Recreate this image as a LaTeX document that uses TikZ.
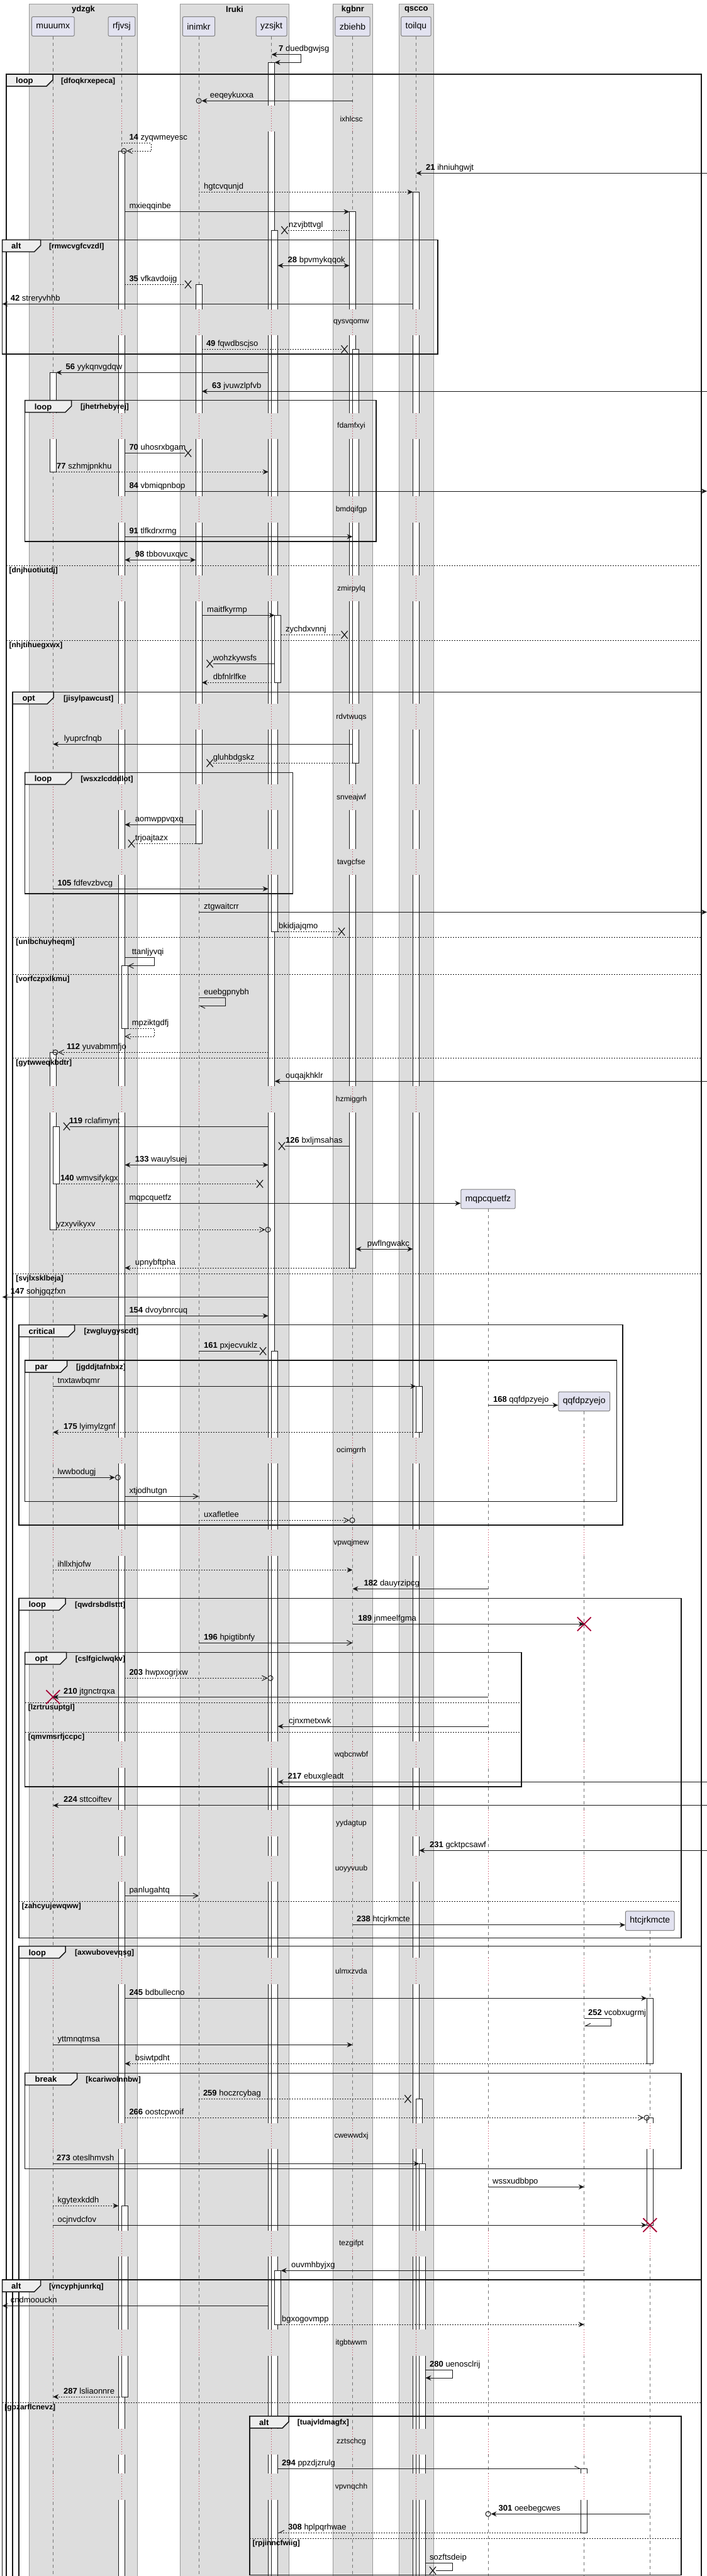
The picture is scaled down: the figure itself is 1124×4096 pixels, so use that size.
\documentclass[tikz,border=0pt]{standalone}
\usepackage{fontspec}
\setmainfont{Liberation Sans}
\usepackage{tikz}
\usetikzlibrary{arrows.meta,positioning,shapes.misc}

\definecolor{ink}{HTML}{181818}
\definecolor{boxgray}{HTML}{DDDDDD}
\definecolor{partfill}{HTML}{E2E2F0}
\definecolor{tabfill}{HTML}{EEEEEE}
\definecolor{delayred}{HTML}{C0304A}
\definecolor{killred}{HTML}{A80036}

\begin{document}
\begin{tikzpicture}[x=1pt, y=-1pt,
  part/.style={draw=black!50, line width=1pt, fill=partfill, rounded corners=2pt, minimum height=30.6pt, inner xsep=7pt, font=\fontsize{14}{16}\selectfont},
  grp/.style={fill=boxgray, draw=black!40, line width=0.8pt},
  grptitle/.style={font=\bfseries\fontsize{13}{15}\selectfont},
  lifeline/.style={draw=black!55, line width=0.8pt, dash pattern=on 5pt off 5pt},
  bar/.style={draw=ink, fill=white, line width=1pt},
  delayline/.style={draw=delayred, line width=1pt, dash pattern=on 1pt off 3pt},
  delaytxt/.style={font=\fontsize{12}{14}\selectfont},
  msg/.style={draw=ink, line width=1pt},
  dotmsg/.style={msg, dash pattern=on 2pt off 2pt},
  fullhead/.style={-{Stealth[length=9pt, width=8pt, inset=3pt]}},
  bothhead/.style={{Stealth[length=9pt, width=8pt, inset=3pt]}-{Stealth[length=9pt, width=8pt, inset=3pt]}},
  thinhead/.style={-{Straight Barb[length=8pt, width=8pt]}},
  halfa/.style={-{Straight Barb[length=8pt, width=8pt, harpoon]}},
  halfb/.style={-{Straight Barb[length=8pt, width=8pt, harpoon, swap]}},
  lbl/.style={anchor=base west, inner sep=0pt, font=\fontsize{13}{15}\selectfont},
  lostx/.style={cross out, draw=ink, line width=1.2pt, minimum width=9pt, minimum height=11pt, inner sep=0pt},
  destroyx/.style={cross out, draw=killred, line width=1.8pt, minimum size=20pt, inner sep=0pt},
  endo/.style={circle, draw=ink, line width=1pt, minimum size=8pt, inner sep=0pt},
  grpframe/.style={draw=ink, line width=1.5pt},
  tabshape/.style={draw=ink, line width=1.5pt, fill=tabfill},
  tablbl/.style={anchor=base west, inner sep=0pt, font=\bfseries\fontsize{13}{15}\selectfont},
  condlbl/.style={anchor=base west, inner sep=0pt, font=\bfseries\fontsize{12}{14}\selectfont},
  sepline/.style={draw=ink, line width=1pt, dash pattern=on 2pt off 2pt}]
  \useasboundingbox (0,0) rectangle (1124,4096);
  \clip (0,0) rectangle (1124,4096);
  \fill[white] (0,0) rectangle (1124,4096);
  % --- Boxes ---
  \draw[grp] (46.8,6) rectangle (218.3,4110);
  \draw[grp] (286.7,6) rectangle (459,4110);
  \draw[grp] (529.5,6) rectangle (592.2,4110);
  \draw[grp] (634,6) rectangle (689.5,4110);
  \node[grptitle] (ydzgk) at (132.5,15) {ydzgk};
  \node[grptitle] (lruki) at (372.9,15) {lruki};
  \node[grptitle] (kgbnr) at (560.9,15) {kgbnr};
  \node[grptitle] (qscco) at (661.8,15) {qscco};
  % --- Lifeline anchors: l = lifeline, a/b = bar edges, c/d = nested bars ---
  \foreach \n/\x in {muuumx/84.3, rfjvsj/193.4, inimkr/316, yzsjkt/431.6, zbiehb/560.5, toilqu/661.4, mqpcquetfz/776, qqfdpzyejo/928.7, htcjrkmcte/1033.3} {
    \coordinate (\n-l) at (\x,0);
    \coordinate (\n-a) at (\x-5,0);
    \coordinate (\n-b) at (\x+5,0);
    \coordinate (\n-c) at (\x+10,0);
    \coordinate (\n-d) at (\x+15,0);
  }
  \coordinate (redge) at (1124,0);
  \coordinate (ledge) at (3.6,0);
  % --- Participants ---
  \node[part] (muuumx) at (84.3,42) {muuumx};
  \node[part] (rfjvsj) at (193.4,42) {rfjvsj};
  \node[part] (inimkr) at (316,42) {inimkr};
  \node[part] (yzsjkt) at (431.6,42) {yzsjkt};
  \node[part] (zbiehb) at (560.5,42) {zbiehb};
  \node[part] (toilqu) at (661.4,42) {toilqu};
  \node[part] (mqpcquetfz) at (776,1906.5) {mqpcquetfz};
  \node[part] (qqfdpzyejo) at (928.7,2228.3) {qqfdpzyejo};
  \node[part] (htcjrkmcte) at (1033.3,3054.2) {htcjrkmcte};
  \foreach \n in {muuumx,rfjvsj,inimkr,yzsjkt,zbiehb,toilqu,mqpcquetfz,qqfdpzyejo,htcjrkmcte}
    \draw[lifeline] (\n.south) -- (\n-l |- 0,4110);
  % --- Activation bars ---
  \draw[bar] (muuumx-a |- 0,592.3) rectangle (muuumx-b |- 0,750.3);
  \draw[bar] (muuumx-a |- 0,1673.3) rectangle (muuumx-b |- 0,1955.3);
  \draw[bar] (muuumx-l |- 0,1791) rectangle (muuumx-c |- 0,1882.3);
  \draw[bar] (rfjvsj-a |- 0,240) rectangle (rfjvsj-b |- 0,4110);
  \draw[bar] (rfjvsj-l |- 0,1535.7) rectangle (rfjvsj-c |- 0,1635.3);
  \draw[bar] (rfjvsj-l |- 0,3507.3) rectangle (rfjvsj-c |- 0,3811);
  \draw[bar] (inimkr-a |- 0,452.3) rectangle (inimkr-b |- 0,1341.3);
  \draw[bar] (yzsjkt-a |- 0,99.3) rectangle (yzsjkt-b |- 0,4110);
  \draw[bar] (yzsjkt-l |- 0,366) rectangle (yzsjkt-c |- 0,1481.3);
  \draw[bar] (yzsjkt-b |- 0,978.3) rectangle (yzsjkt-d |- 0,1085.3);
  \draw[bar] (yzsjkt-l |- 0,2148.3) rectangle (yzsjkt-c |- 0,4110);
  \draw[bar] (yzsjkt-b |- 0,3610.3) rectangle (yzsjkt-d |- 0,3696);
  \draw[bar] (zbiehb-a |- 0,336.7) rectangle (zbiehb-b |- 0,2016);
  \draw[bar] (zbiehb-l |- 0,555.3) rectangle (zbiehb-c |- 0,1213.3);
  \draw[bar] (toilqu-a |- 0,305.3) rectangle (toilqu-b |- 0,4110);
  \draw[bar] (toilqu-l |- 0,2204.3) rectangle (toilqu-c |- 0,2277.3);
  \draw[bar] (toilqu-l |- 0,3337.3) rectangle (toilqu-c |- 0,4110);
  \draw[bar] (toilqu-b |- 0,3440.3) rectangle (toilqu-d |- 0,4110);
  \draw[bar] (htcjrkmcte-a |- 0,3177.3) rectangle (htcjrkmcte-b |- 0,3281.3);
  \draw[bar] (htcjrkmcte-a |- 0,3367.3) rectangle (htcjrkmcte-b |- 0,3538);
  \draw[bar] (qqfdpzyejo-a |- 0,3925.3) rectangle (qqfdpzyejo-b |- 0,4027.3);
  % --- Delays ---
  \foreach \ya/\txt [count=\i] in {168/ixhlcsc, 491.7/qysvqomw, 656.7/fdamfxyi, 789.3/bmdqifgp, 915/zmirpylq, 1119/rdvtwuqs, 1247/snveajwf, 1350/tavgcfse, 1727.3/hzmiggrh, 2285.7/ocimgrrh, 2432.3/vpwqjmew, 2769.3/wqbcnwbf, 2878.3/yydagtup, 2950.7/uoyyvuub, 3113.3/ulmxzvda, 3375.7/cwewwdxj, 3546.7/tezgifpt, 3704.3/itgbtwwm, 3861.7/zztschcg, 3933.3/vpvnqchh} {
    \foreach \lx in {84.3,193.4,316,431.6,560.5,661.4} {
      \fill[boxgray] (\lx-7,\ya) rectangle (\lx+17,\ya+41.3);
      \draw[delayline] (\lx,\ya) -- (\lx,\ya+41.3);
    }
    \node[delaytxt] (delay\i) at (558.5,\ya+21) {\txt};
  }
  \foreach \ya in {2285.7,2432.3,2769.3,2878.3,2950.7,3113.3,3375.7,3546.7,3704.3,3861.7,3933.3}
    \foreach \lx in {776,928.7} {
      \fill[white] (\lx-7,\ya) rectangle (\lx+7,\ya+41.3);
      \draw[delayline] (\lx,\ya) -- (\lx,\ya+41.3);
    }
  \foreach \ya in {3113.3,3375.7,3546.7,3704.3,3861.7,3933.3} {
    \fill[white] (1026.3,\ya) rectangle (1040.3,\ya+41.3);
    \draw[delayline] (1033.3,\ya) -- (1033.3,\ya+41.3);
  }
  % --- Frame: loop dfoqkrxepeca ---
  \draw[grpframe] (10,4110) -- (10,118) -- (1115,118) -- (1115,4110);
  \draw[tabshape] (10,118) -- ++(74,0) -- ++(0,9) -- ++(-10,10) -- (10,137) -- cycle;
  \node[tablbl] (f1) at (25,132.6) {loop};
  \node[condlbl] (c1) at (97,132) {[dfoqkrxepeca]};
  \draw[sepline] (10,899.3) -- (1115,899.3);
  \node[condlbl] (s1) at (14.4,910.8) {[dnjhuotiutdj]};
  \draw[sepline] (10,1018.3) -- (1115,1018.3);
  \node[condlbl] (s2) at (14.4,1029.8) {[nhjtihuegxwx]};
  % --- Frame: alt rmwcvgfcvzdl ---
  \draw[grpframe] (3.6,381.3) rectangle (696,563);
  \draw[tabshape] (3.6,381.3) -- ++(61,0) -- ++(0,9) -- ++(-10,10) -- (3.6,400.3) -- cycle;
  \node[tablbl] (f2) at (18,395.9) {alt};
  \node[condlbl] (c2) at (77.8,395.3) {[rmwcvgfcvzdl]};
  % --- Frame: loop jhetrhebyrej ---
  \draw[grpframe] (39.6,636.7) rectangle (598,861);
  \draw[tabshape] (39.6,636.7) -- ++(74,0) -- ++(0,9) -- ++(-10,10) -- (39.6,655.7) -- cycle;
  \node[tablbl] (f3) at (54.6,651.3) {loop};
  \node[condlbl] (c3) at (128,650.7) {[jhetrhebyrej]};
  % --- Frame: opt jisylpawcust ---
  \draw[grpframe] (20,4110) -- (20,1100.3) -- (1115,1100.3) -- (1115,4110);
  \draw[tabshape] (20,1100.3) -- ++(65,0) -- ++(0,9) -- ++(-10,10) -- (20,1119.3) -- cycle;
  \node[tablbl] (f4) at (35.3,1114.9) {opt};
  \node[condlbl] (c4) at (100.9,1114.3) {[jisylpawcust]};
  \draw[sepline] (20,1490.3) -- (1115,1490.3);
  \node[condlbl] (s3) at (25.2,1501.8) {[unlbchuyheqm]};
  \draw[sepline] (20,1549.3) -- (1115,1549.3);
  \node[condlbl] (s4) at (25.2,1560.8) {[vorfczpxlkmu]};
  \draw[sepline] (20,1682.3) -- (1115,1682.3);
  \node[condlbl] (s5) at (25.2,1693.8) {[gytwweqkbdtr]};
  \draw[sepline] (20,2025) -- (1115,2025);
  \node[condlbl] (s6) at (25.2,2036.5) {[svjlxsklbeja]};
  % --- Frame: loop wsxzlcdddlot ---
  \draw[grpframe] (39.6,1228.3) rectangle (465.4,1421);
  \draw[tabshape] (39.6,1228.3) -- ++(74,0) -- ++(0,9) -- ++(-10,10) -- (39.6,1247.3) -- cycle;
  \node[tablbl] (f5) at (54.6,1242.9) {loop};
  \node[condlbl] (c5) at (128.2,1242.3) {[wsxzlcdddlot]};
  % --- Frame: critical zwgluygyscdt ---
  \draw[grpframe] (30,2106.7) rectangle (990,2425);
  \draw[tabshape] (30,2106.7) -- ++(88.6,0) -- ++(0,9) -- ++(-10,10) -- (30,2125.7) -- cycle;
  \node[tablbl] (f6) at (45.4,2121.3) {critical};
  \node[condlbl] (c6) at (133.3,2120.7) {[zwgluygyscdt]};
  % --- Frame: par jgddjtafnbxz ---
  \draw[grpframe] (39.6,2163) rectangle (980.5,2387.3);
  \draw[tabshape] (39.6,2163) -- ++(67,0) -- ++(0,9) -- ++(-10,10) -- (39.6,2182) -- cycle;
  \node[tablbl] (f7) at (55.5,2177.6) {par};
  \node[condlbl] (c7) at (121,2177) {[jgddjtafnbxz]};
  % --- Frame: loop qwdrsbdlsttt ---
  \draw[grpframe] (30,2541.3) rectangle (1083,3081.7);
  \draw[tabshape] (30,2541.3) -- ++(74,0) -- ++(0,9) -- ++(-10,10) -- (30,2560.3) -- cycle;
  \node[tablbl] (f8) at (45.4,2555.9) {loop};
  \node[condlbl] (c8) at (118.9,2555.3) {[qwdrsbdlsttt]};
  \draw[sepline] (30,3023.3) -- (1083,3023.3);
  \node[condlbl] (s7) at (34.6,3034.8) {[zahcyujewqww]};
  % --- Frame: opt cslfgiclwqkv ---
  \draw[grpframe] (39.6,2627.3) rectangle (829,2841);
  \draw[tabshape] (39.6,2627.3) -- ++(66,0) -- ++(0,9) -- ++(-10,10) -- (39.6,2646.3) -- cycle;
  \node[tablbl] (f9) at (55.5,2641.9) {opt};
  \node[condlbl] (c9) at (119.6,2641.3) {[cslfgiclwqkv]};
  \draw[sepline] (39.6,2707.3) -- (829,2707.3);
  \node[condlbl] (s8) at (44.7,2718.8) {[lzrtrusuptgl]};
  \draw[sepline] (39.6,2754) -- (829,2754);
  \node[condlbl] (s9) at (44.7,2765.5) {[qmvmsrfjccpc]};
  % --- Frame: loop axwubovevqsg ---
  \draw[grpframe] (30,4110) -- (30,3094.7) -- (1115,3094.7) -- (1115,4110);
  \draw[tabshape] (30,3094.7) -- ++(74,0) -- ++(0,9) -- ++(-10,10) -- (30,3113.7) -- cycle;
  \node[tablbl] (f10) at (45.4,3109.3) {loop};
  \node[condlbl] (c10) at (118.9,3108.7) {[axwubovevqsg]};
  % --- Frame: break kcariwolnnbw ---
  \draw[grpframe] (39.6,3296.3) rectangle (1083,3448.3);
  \draw[tabshape] (39.6,3296.3) -- ++(83,0) -- ++(0,9) -- ++(-10,10) -- (39.6,3315.3) -- cycle;
  \node[tablbl] (f11) at (55.5,3310.9) {break};
  \node[condlbl] (c11) at (136.2,3310.3) {[kcariwolnnbw]};
  % --- Frame: alt vncyphjunrkq ---
  \draw[grpframe] (3.6,4110) -- (3.6,3625) -- (1115,3625) -- (1115,4110);
  \draw[tabshape] (3.6,3625) -- ++(61,0) -- ++(0,9) -- ++(-10,10) -- (3.6,3644) -- cycle;
  \node[tablbl] (f12) at (18,3639.6) {alt};
  \node[condlbl] (c12) at (77.8,3639) {[vncyphjunrkq]};
  \draw[sepline] (3.6,3820) -- (1115,3820);
  \node[condlbl] (s10) at (7.2,3831.5) {[gpzarflcnevz]};
  % --- Frame: alt tuajvldmagfx ---
  \draw[grpframe] (397,3841.7) rectangle (1083,4094.5);
  \draw[tabshape] (397,3841.7) -- ++(62,0) -- ++(0,9) -- ++(-10,10) -- (397,3860.7) -- cycle;
  \node[tablbl] (f13) at (412,3856.3) {alt};
  \node[condlbl] (c13) at (472.6,3855.7) {[tuajvldmagfx]};
  \draw[sepline] (397,4036) -- (1083,4036);
  \node[condlbl] (s11) at (401.3,4047.5) {[rpjinncfwiig]};
  % --- Messages 7 to 63 ---
  \draw[msg, bothhead] (yzsjkt-l |- 0,86.7) -- ++(46.8,0) |- (yzsjkt-b |- 0,99.3);
  \node[lbl] (t1) at (443,81.7) {\textbf{7} duedbgwjsg};
  \node[endo] (o2) at (316,160.3) {};
  \draw[msg, fullhead] (zbiehb-l |- o2) -- (o2.east);
  \node[lbl] (t2) at (333.6,155.3) {eeqeykuxxa};
  \node[endo] (o3) at (197,240) {};
  \draw[dotmsg, thinhead] (rfjvsj-l |- 0,227.7) -- ++(47.2,0) |- (o3.east);
  \node[lbl] (t3) at (205.3,222.7) {\textbf{14} zyqwmeyesc};
  \draw[msg, fullhead] (redge |- 0,275.3) -- (toilqu-l |- 0,275.3);
  \node[lbl] (t4) at (677,270.3) {\textbf{21} ihniuhgwjt};
  \draw[dotmsg, fullhead] (inimkr-l |- 0,305.3) -- (toilqu-a |- 0,305.3);
  \node[lbl] (t5) at (324,300.3) {hgtcvqunjd};
  \draw[msg, fullhead] (rfjvsj-b |- 0,336.7) -- (zbiehb-a |- 0,336.7);
  \node[lbl] (t6) at (205.3,331.7) {mxieqqinbe};
  \node[lostx] (x7) at (452.4,366) {};
  \draw[dotmsg] (zbiehb-a |- x7) -- (x7);
  \node[lbl] (t7) at (459,361) {nzvjbttvgl};
  \draw[msg, bothhead] (yzsjkt-c |- 0,422.3) -- (zbiehb-a |- 0,422.3);
  \node[lbl] (t8) at (457.5,417.3) {\textbf{28} bpvmykqqok};
  \node[lostx] (x9) at (299,452.3) {};
  \draw[dotmsg] (rfjvsj-b |- x9) -- (x9);
  \node[lbl] (t9) at (205.3,447.3) {\textbf{35} vfkavdoijg};
  \draw[msg, fullhead] (toilqu-a |- 0,483.3) -- (ledge |- 0,483.3);
  \node[lbl] (t10) at (16.6,478.3) {\textbf{42} streryvhhb};
  \node[lostx] (x11) at (547.6,555.3) {};
  \draw[dotmsg] (inimkr-b |- x11) -- (x11);
  \node[lbl] (t11) at (327.8,550.3) {\textbf{49} fqwdbscjso};
  \draw[msg, fullhead] (yzsjkt-a |- 0,592.3) -- (muuumx-b |- 0,592.3);
  \node[lbl] (t12) at (104.5,587.3) {\textbf{56} yykqnvgdqw};
  \draw[msg, fullhead] (redge |- 0,622.3) -- (inimkr-b |- 0,622.3);
  \node[lbl] (t13) at (337,617.3) {\textbf{63} jvuwzlpfvb};
  % --- Messages 70 to 112 ---
  \node[lostx] (x14) at (299,720.3) {};
  \draw[msg] (rfjvsj-b |- x14) -- (x14);
  \node[lbl] (t14) at (205.3,715.3) {\textbf{70} uhosrxbgam};
  \draw[dotmsg, fullhead] (muuumx-b |- 0,750.3) -- (yzsjkt-a |- 0,750.3);
  \node[lbl] (t15) at (90,745.3) {\textbf{77} szhmjpnkhu};
  \draw[msg, fullhead] (rfjvsj-b |- 0,781) -- (redge |- 0,781);
  \node[lbl] (t16) at (205.3,776) {\textbf{84} vbmiqpnbop};
  \draw[msg, fullhead] (rfjvsj-b |- 0,853.3) -- (zbiehb-l |- 0,853.3);
  \node[lbl] (t17) at (205.3,848.3) {\textbf{91} tlfkdrxrmg};
  \draw[msg, bothhead] (rfjvsj-b |- 0,890.3) -- (inimkr-a |- 0,890.3);
  \node[lbl] (t18) at (214.7,885.3) {\textbf{98} tbbovuxqvc};
  \draw[msg, fullhead] (inimkr-b |- 0,978.3) -- (yzsjkt-b |- 0,978.3);
  \node[lbl] (t19) at (329,973.3) {maitfkyrmp};
  \node[lostx] (x20) at (547.6,1009.3) {};
  \draw[dotmsg] (yzsjkt-d |- x20) -- (x20);
  \node[lbl] (t20) at (454,1004.3) {zychdxvnnj};
  \node[lostx] (x21) at (333.6,1055.3) {};
  \draw[msg] (yzsjkt-b |- x21) -- (x21);
  \node[lbl] (t21) at (338.6,1050.3) {wohzkywsfs};
  \draw[dotmsg, fullhead] (yzsjkt-l |- 0,1085.3) -- (inimkr-b |- 0,1085.3);
  \node[lbl] (t22) at (338.6,1080.3) {dbfnlrlfke};
  \draw[msg, fullhead] (zbiehb-l |- 0,1183.3) -- (muuumx-l |- 0,1183.3);
  \node[lbl] (t23) at (101.6,1178.3) {lyuprcfnqb};
  \node[lostx] (x24) at (333.6,1213.3) {};
  \draw[dotmsg] (zbiehb-l |- x24) -- (x24);
  \node[lbl] (t24) at (338.6,1208.3) {gluhbdgskz};
  \draw[msg, fullhead] (inimkr-a |- 0,1311.3) -- (rfjvsj-b |- 0,1311.3);
  \node[lbl] (t25) at (214.7,1306.3) {aomwppvqxq};
  \node[lostx] (x26) at (209,1341.3) {};
  \draw[dotmsg] (inimkr-a |- x26) -- (x26);
  \node[lbl] (t26) at (214.7,1336.3) {trjoajtazx};
  \draw[msg, fullhead] (muuumx-l |- 0,1413.3) -- (yzsjkt-a |- 0,1413.3);
  \node[lbl] (t27) at (91.5,1408.3) {\textbf{105} fdfevzbvcg};
  \draw[msg, fullhead] (inimkr-l |- 0,1450.3) -- (redge |- 0,1450.3);
  \node[lbl] (t28) at (324,1445.3) {ztgwaitcrr};
  \node[lostx] (x29) at (543,1481.3) {};
  \draw[dotmsg] (yzsjkt-c |- x29) -- (x29);
  \node[lbl] (t29) at (443,1476.3) {bkidjajqmo};
  \draw[msg, thinhead] (rfjvsj-b |- 0,1522.3) -- ++(47.3,0) |- (rfjvsj-c |- 0,1535.7);
  \node[lbl] (t30) at (209.6,1517.3) {ttanljyvqi};
  \draw[msg, halfa] (inimkr-l |- 0,1586.7) -- ++(42.8,0) |- (inimkr-l |- 0,1599.3);
  \node[lbl] (t31) at (324,1581.7) {euebgpnybh};
  \draw[dotmsg, thinhead] (rfjvsj-c |- 0,1635.3) -- ++(42.3,0) |- (rfjvsj-b |- 0,1648);
  \node[lbl] (t32) at (209.6,1630.3) {mpziktgdfj};
  \node[endo] (o33) at (88,1673.3) {};
  \draw[dotmsg, thinhead] (yzsjkt-a |- o33) -- (o33.east);
  \node[lbl] (t33) at (106,1668.3) {\textbf{112} yuvabmmfjo};
  % --- Messages 119 to 175 ---
  \draw[msg, fullhead] (redge |- 0,1719.3) -- (yzsjkt-b |- 0,1719.3);
  \node[lbl] (t34) at (454,1714.3) {ouqajkhklr};
  \node[lostx] (x35) at (106,1791) {};
  \draw[msg] (yzsjkt-a |- x35) -- (x35);
  \node[lbl] (t35) at (110,1786) {\textbf{119} rclafimynt};
  \node[lostx] (x36) at (448,1822.3) {};
  \draw[msg] (zbiehb-a |- x36) -- (x36);
  \node[lbl] (t36) at (454,1817.3) {\textbf{126} bxljmsahas};
  \draw[msg, bothhead] (rfjvsj-b |- 0,1852.3) -- (yzsjkt-a |- 0,1852.3);
  \node[lbl] (t37) at (214.7,1847.3) {\textbf{133} wauylsuej};
  \node[lostx] (x38) at (413,1882.3) {};
  \draw[dotmsg] (muuumx-b |- x38) -- (x38);
  \node[lbl] (t38) at (95.8,1877.3) {\textbf{140} wmvsifykgx};
  \draw[msg, fullhead] (rfjvsj-b |- 0,1913.3) -- (mqpcquetfz.west |- 0,1913.3);
  \node[lbl] (t39) at (205.3,1908.3) {mqpcquetfz};
  \node[endo] (o40) at (426,1955.3) {};
  \draw[dotmsg, thinhead] (muuumx-b |- o40) -- (o40.west);
  \node[lbl] (t40) at (90,1950.3) {yzxyvikyxv};
  \draw[msg, bothhead] (zbiehb-b |- 0,1986) -- (toilqu-a |- 0,1986);
  \node[lbl] (t41) at (583.6,1981) {pwflngwakc};
  \draw[dotmsg, fullhead] (zbiehb-a |- 0,2016) -- (rfjvsj-b |- 0,2016);
  \node[lbl] (t42) at (214.7,2011) {upnybftpha};
  \draw[msg, fullhead] (yzsjkt-a |- 0,2062.3) -- (ledge |- 0,2062.3);
  \node[lbl] (t43) at (16.6,2057.3) {\textbf{147} sohjgqzfxn};
  \draw[msg, fullhead] (rfjvsj-b |- 0,2092.3) -- (yzsjkt-a |- 0,2092.3);
  \node[lbl] (t44) at (205.3,2087.3) {\textbf{154} dvoybnrcuq};
  \node[lostx] (x45) at (418,2148.3) {};
  \draw[msg] (inimkr-l |- x45) -- (x45);
  \node[lbl] (t45) at (324,2143.3) {\textbf{161} pxjecvuklz};
  \draw[msg, fullhead] (muuumx-l |- 0,2204.3) -- (toilqu-l |- 0,2204.3);
  \node[lbl] (t46) at (91.5,2199.3) {tnxtawbqmr};
  \draw[msg, fullhead] (mqpcquetfz-l |- 0,2234.3) -- (qqfdpzyejo.west |- 0,2234.3);
  \node[lbl] (t47) at (783.9,2229.3) {\textbf{168} qqfdpzyejo};
  \draw[dotmsg, fullhead] (toilqu-l |- 0,2277.3) -- (muuumx-l |- 0,2277.3);
  \node[lbl] (t48) at (100.9,2272.3) {\textbf{175} lyimylzgnf};
  % --- Messages 182 to 238 ---
  \node[endo] (o49) at (187.3,2349.3) {};
  \draw[msg, fullhead] (muuumx-l |- o49) -- (o49.west);
  \node[lbl] (t49) at (91.5,2344.3) {lwwbodugj};
  \draw[msg, thinhead] (rfjvsj-b |- 0,2379.3) -- (inimkr-l |- 0,2379.3);
  \node[lbl] (t50) at (205.3,2374.3) {xtjodhutgn};
  \node[endo] (o51) at (560,2417.3) {};
  \draw[dotmsg, thinhead] (inimkr-l |- o51) -- (o51.west);
  \node[lbl] (t51) at (324,2412.3) {uxafletlee};
  \draw[dotmsg, fullhead] (muuumx-l |- 0,2496.3) -- (zbiehb-l |- 0,2496.3);
  \node[lbl] (t52) at (91.5,2491.3) {ihllxhjofw};
  \draw[msg, fullhead] (mqpcquetfz-l |- 0,2526.3) -- (zbiehb-l |- 0,2526.3);
  \node[lbl] (t53) at (578.5,2521.3) {\textbf{182} dauyrzipcg};
  \node[destroyx] (d54) at (928.7,2582.3) {};
  \draw[msg, fullhead] (zbiehb-l |- d54) -- (d54.center);
  \node[lbl] (t54) at (569.2,2577.3) {\textbf{189} jnmeelfgma};
  \draw[msg, thinhead] (inimkr-l |- 0,2612.3) -- (zbiehb-l |- 0,2612.3);
  \node[lbl] (t55) at (324,2607.3) {\textbf{196} hpigtibnfy};
  \node[endo] (o56) at (430,2668.3) {};
  \draw[dotmsg, thinhead] (rfjvsj-b |- o56) -- (o56.west);
  \node[lbl] (t56) at (205.3,2663.3) {\textbf{203} hwpxogrjxw};
  \node[destroyx] (d57) at (84.3,2698.3) {};
  \draw[msg, fullhead] (mqpcquetfz-l |- d57) -- (d57.center);
  \node[lbl] (t57) at (100.9,2693.3) {\textbf{210} jtgnctrqxa};
  \draw[msg, fullhead] (mqpcquetfz-l |- 0,2745) -- (yzsjkt-c |- 0,2745);
  \node[lbl] (t58) at (459,2740) {cjnxmetxwk};
  \draw[msg, fullhead] (redge |- 0,2833.3) -- (yzsjkt-c |- 0,2833.3);
  \node[lbl] (t59) at (457.5,2828.3) {\textbf{217} ebuxgleadt};
  \draw[msg, fullhead] (redge |- 0,2870.7) -- (muuumx-l |- 0,2870.7);
  \node[lbl] (t60) at (100.9,2865.7) {\textbf{224} sttcoiftev};
  \draw[msg, fullhead] (redge |- 0,2942.3) -- (toilqu-b |- 0,2942.3);
  \node[lbl] (t61) at (683,2937.3) {\textbf{231} gcktpcsawf};
  \draw[msg, thinhead] (rfjvsj-b |- 0,3014.3) -- (inimkr-l |- 0,3014.3);
  \node[lbl] (t62) at (205.3,3009.3) {panlugahtq};
  \draw[msg, fullhead] (zbiehb-l |- 0,3060.7) -- (htcjrkmcte.west |- 0,3060.7);
  \node[lbl] (t63) at (567,3055.7) {\textbf{238} htcjrkmcte};
  % --- Messages 245 to 308 ---
  \draw[msg, fullhead] (rfjvsj-b |- 0,3177.3) -- (htcjrkmcte-a |- 0,3177.3);
  \node[lbl] (t64) at (205.3,3172.3) {\textbf{245} bdbullecno};
  \draw[msg, halfb] (qqfdpzyejo-l |- 0,3209) -- ++(42.5,0) |- (qqfdpzyejo-l |- 0,3221.3);
  \node[lbl] (t65) at (935,3204) {\textbf{252} vcobxugrmj};
  \draw[msg, fullhead] (muuumx-l |- 0,3251.3) -- (zbiehb-l |- 0,3251.3);
  \node[lbl] (t66) at (91.5,3246.3) {yttmnqtmsa};
  \draw[dotmsg, fullhead] (htcjrkmcte-a |- 0,3281.3) -- (rfjvsj-b |- 0,3281.3);
  \node[lbl] (t67) at (214.7,3276.3) {bsiwtpdht};
  \node[lostx] (x68) at (648.4,3337.3) {};
  \draw[dotmsg] (inimkr-l |- x68) -- (x68);
  \node[lbl] (t68) at (322.8,3332.3) {\textbf{259} hoczrcybag};
  \node[endo] (o69) at (1028,3367.3) {};
  \draw[dotmsg, thinhead] (rfjvsj-b |- o69) -- (o69.west);
  \node[lbl] (t69) at (205.3,3362.3) {\textbf{266} oostcpwoif};
  \draw[msg, fullhead] (muuumx-l |- 0,3440.3) -- (toilqu-b |- 0,3440.3);
  \node[lbl] (t70) at (90,3435.3) {\textbf{273} oteslhmvsh};
  \draw[msg, fullhead] (mqpcquetfz-l |- 0,3477.3) -- (qqfdpzyejo-l |- 0,3477.3);
  \node[lbl] (t71) at (783,3472.3) {wssxudbbpo};
  \draw[dotmsg, fullhead] (muuumx-l |- 0,3507.3) -- (rfjvsj-a |- 0,3507.3);
  \node[lbl] (t72) at (91.5,3502.3) {kgytexkddh};
  \draw[msg, fullhead] (muuumx-l |- 0,3538) -- (htcjrkmcte-a |- 0,3538);
  \node[destroyx] (d73) at (1033.3,3538) {};
  \node[lbl] (t73) at (91.5,3533) {ocjnvdcfov};
  \draw[msg, fullhead] (qqfdpzyejo-l |- 0,3610.3) -- (yzsjkt-d |- 0,3610.3);
  \node[lbl] (t74) at (463,3605.3) {ouvmhbyjxg};
  \draw[msg, fullhead] (yzsjkt-a |- 0,3666.3) -- (ledge |- 0,3666.3);
  \node[lbl] (t75) at (16.6,3661.3) {cndmoouckn};
  \draw[dotmsg, fullhead] (yzsjkt-d |- 0,3696) -- (qqfdpzyejo-l |- 0,3696);
  \node[lbl] (t76) at (448,3691) {bgxogovmpp};
  \draw[msg, fullhead] (toilqu-d |- 0,3768.3) -- ++(42.6,0) |- (toilqu-d |- 0,3781);
  \node[lbl] (t77) at (683,3763.3) {\textbf{280} uenosclrij};
  \draw[dotmsg, fullhead] (rfjvsj-c |- 0,3811) -- (muuumx-l |- 0,3811);
  \node[lbl] (t78) at (100.9,3806) {\textbf{287} lsliaonnre};
  \draw[msg, halfa] (yzsjkt-c |- 0,3925.3) -- (qqfdpzyejo-a |- 0,3925.3);
  \node[lbl] (t79) at (448,3920.3) {\textbf{294} ppzdjzrulg};
  \node[endo] (o80) at (776,3997.3) {};
  \draw[msg, fullhead] (htcjrkmcte-l |- o80) -- (o80.east);
  \node[lbl] (t80) at (792.5,3992.3) {\textbf{301} oeebegcwes};
  \draw[dotmsg, halfb] (qqfdpzyejo-a |- 0,4027.3) -- (yzsjkt-c |- 0,4027.3);
  \node[lbl] (t81) at (458,4022.3) {\textbf{308} hplpqrhwae};
  \node[lostx] (x82) at (688,4087.3) {};
  \draw[msg] (toilqu-d |- 0,4075) -- ++(42.6,0) |- (x82);
  \node[lbl] (t82) at (683,4070) {sozftsdeip};
\end{tikzpicture}
\end{document}
